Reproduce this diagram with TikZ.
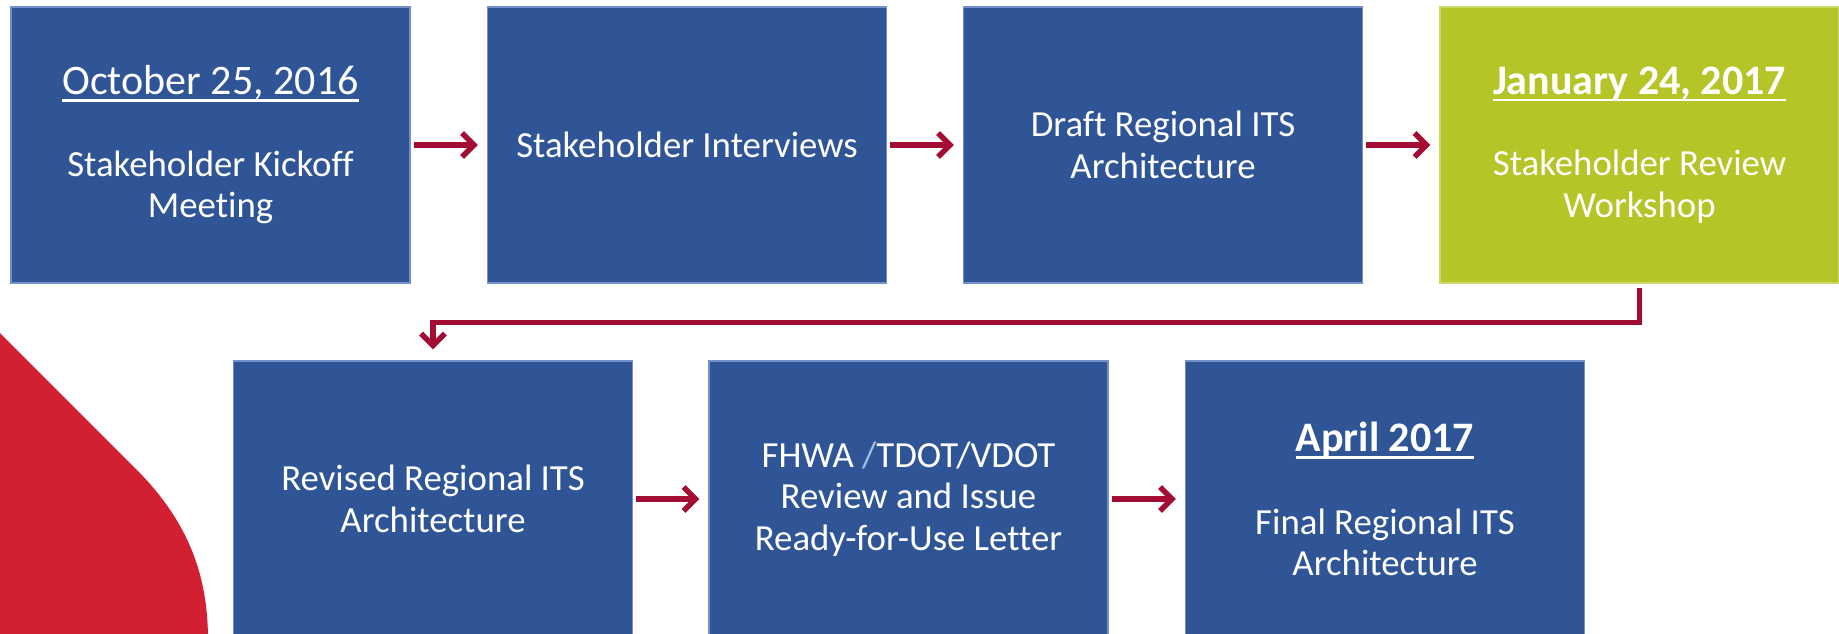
\documentclass[tikz,border=0pt]{standalone}
\usepackage{fontspec}
\setmainfont{Carlito}[Ligatures=NoCommon]
\usetikzlibrary{arrows.meta}
\definecolor{boxblue}{HTML}{2F5597}
\definecolor{boxedge}{HTML}{7590C8}
\definecolor{limefill}{HTML}{B5C427}
\definecolor{limeedge}{HTML}{CCD86A}
\definecolor{arrowred}{HTML}{A30D34}
\definecolor{swoosh}{HTML}{D22032}
\definecolor{slashblue}{HTML}{9DC3E6}
\newcommand\dateline[1]{\setbox0\hbox{#1}\leavevmode\rlap{\vrule height -4.5pt depth 7pt width \wd0}\box0}
\newcommand\datefont{\fontsize{42}{50}\selectfont}
\tikzset{
  stage/.style={rectangle, fill=boxblue, draw=boxedge, line width=1.2pt,
    minimum width=399pt, minimum height=276pt, inner sep=0pt,
    text=white, align=center, font=\fontsize{36.8}{41.5}\selectfont},
  limestage/.style={stage, fill=limefill, draw=limeedge},
  flow/.style={draw=arrowred, line width=5.5pt,
    -{Straight Barb[length=12pt,width=24pt]}}
}
\begin{document}
\begin{tikzpicture}[x=1pt,y=-1pt]
\clip (0,0) rectangle (1839,634);
\fill[white] (0,0) rectangle (1839,634);
% decorative swoosh
\fill[swoosh] (0,333) -- (135,468) .. controls (185,518) and (208,570) .. (208,640) -- (0,640) -- cycle;
% row 1
\node[stage] (b1) at (210.5,145) {\dateline{\datefont October 25, 2016}\\[40pt]Stakeholder Kickoff\\Meeting};
\node[stage] (b2) at (687,145) {Stakeholder Interviews};
\node[stage] (b3) at (1163,145) {Draft Regional ITS\\Architecture};
\node[limestage] (b4) at (1639.5,145) {\dateline{\datefont\bfseries January 24, 2017}\\[40pt]Stakeholder Review\\Workshop};
% row 2
\node[stage] (b5) at (433,499) {Revised Regional ITS\\Architecture};
\node[stage] (b6) at (908.5,499) {FHWA {\color{slashblue}/}TDOT/VDOT\\Review and Issue\\Ready-for-Use Letter};
\node[stage] (b7) at (1385,499) {\dateline{\datefont\bfseries April 2017}\\[41pt]Final Regional ITS\\Architecture};
% connectors
\draw[flow, shorten <=3pt, shorten >=9pt] (b1) -- (b2);
\draw[flow, shorten <=3pt, shorten >=9pt] (b2) -- (b3);
\draw[flow, shorten <=3pt, shorten >=9pt] (b3) -- (b4);
\draw[flow, shorten <=4pt, shorten >=11pt] (b4.south) -- ++(0,39) -| (b5.north);
\draw[flow, shorten <=3pt, shorten >=9pt] (b5) -- (b6);
\draw[flow, shorten <=3pt, shorten >=9pt] (b6) -- (b7);
\end{tikzpicture}
\end{document}
